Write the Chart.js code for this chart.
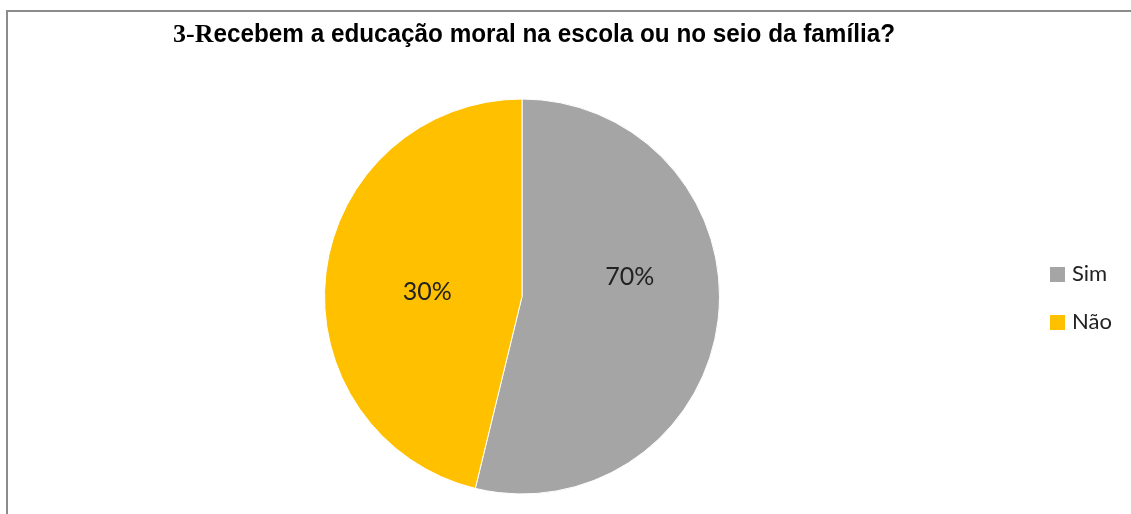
<!DOCTYPE html>
<html>
<head>
<meta charset="utf-8">
<script src="https://cdn.jsdelivr.net/npm/chart.js@4"></script>
<style>
  html, body { margin: 0; padding: 0; background: #fff; }
  #wrap { width: 1131px; height: 514px; position: relative; }
</style>
</head>
<body>
<div id="wrap"><canvas id="myChart" width="1131" height="514"></canvas></div>
<script>
// data
const titleLead = '3-R';
const titleRest = 'ecebem a educação moral na escola ou no seio da família?';
const categories = ['Sim', 'Não'];
const sliceValues = [53.8, 46.2];      // drawn slice sizes
const pctLabels = ['70%', '30%'];      // printed labels
const sliceColors = ['#A5A5A5', '#FFC000'];

const frameTitlePlugin = {
  id: 'frameTitlePlugin',
  beforeDraw(chart) {
    const ctx = chart.ctx;
    ctx.save();
    ctx.fillStyle = '#fff';
    ctx.fillRect(0, 0, chart.width, chart.height);
    // frame lines (top + left)
    ctx.strokeStyle = '#8c8c8c';
    ctx.lineWidth = 2;
    ctx.beginPath();
    ctx.moveTo(7, chart.height);
    ctx.lineTo(7, 11);
    ctx.lineTo(chart.width, 11);
    ctx.stroke();
    ctx.restore();
  },
  afterDraw(chart) {
    const ctx = chart.ctx;
    // title: serif lead, condensed sans rest
    ctx.save();
    ctx.fillStyle = '#000';
    ctx.textBaseline = 'alphabetic';
    ctx.textAlign = 'left';
    ctx.font = "bold 26px 'Liberation Serif', serif";
    const leadW = ctx.measureText(titleLead).width;
    ctx.fillText(titleLead, 173, 42);
    ctx.font = "bold 25px 'Liberation Sans', sans-serif";
    const restW = ctx.measureText(titleRest).width;
    const startX = 173 + leadW;
    const targetW = 895 - startX;
    ctx.translate(startX, 42);
    ctx.scale(targetW / restW, 1);
    ctx.fillText(titleRest, 0, 0);
    ctx.restore();

    // legend
    ctx.save();
    ctx.font = "22px Lato, sans-serif";
    ctx.textBaseline = 'middle';
    ctx.textAlign = 'left';
    categories.forEach((c, i) => {
      const y = 274 + i * 48;
      ctx.fillStyle = sliceColors[i];
      ctx.fillRect(1050, y - 7, 15, 15);
      ctx.fillStyle = '#222';
      ctx.fillText(c, 1072, y);
    });
    ctx.restore();

    // slice labels
    const meta = chart.getDatasetMeta(0);
    const nudge = [[0, -32], [13, 8]];
    ctx.save();
    ctx.font = "25px Lato, sans-serif";
    ctx.fillStyle = '#222';
    ctx.textAlign = 'center';
    ctx.textBaseline = 'middle';
    meta.data.forEach((arc, i) => {
      const p = arc.getProps(['x', 'y', 'startAngle', 'endAngle', 'outerRadius']);
      const mid = (p.startAngle + p.endAngle) / 2;
      const r = p.outerRadius * 0.55;
      ctx.fillText(pctLabels[i], p.x + Math.cos(mid) * r + nudge[i][0], p.y + Math.sin(mid) * r + nudge[i][1]);
    });
    ctx.restore();
  }
};

const ctx = document.getElementById('myChart').getContext('2d');
new Chart(ctx, {
  type: 'pie',
  data: {
    labels: categories,
    datasets: [{
      data: sliceValues,
      backgroundColor: sliceColors,
      borderColor: '#fff',
      borderWidth: 1
    }]
  },
  options: {
    responsive: false,
    animation: false,
    layout: {
      padding: { left: 324, right: 411, top: 98, bottom: 19 }
    },
    plugins: {
      legend: { display: false },
      title: { display: false },
      tooltip: { enabled: false }
    }
  },
  plugins: [frameTitlePlugin]
});
</script>
</body>
</html>
